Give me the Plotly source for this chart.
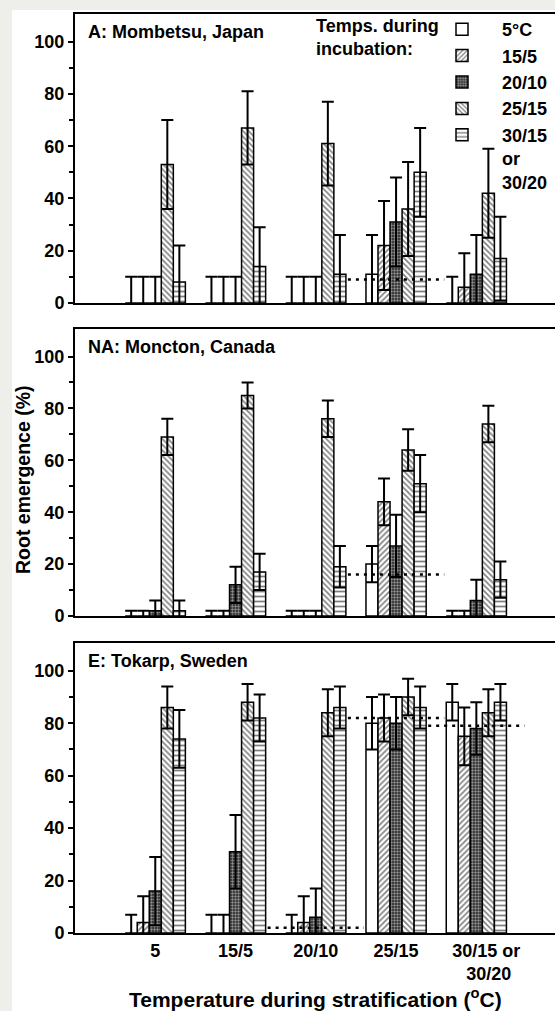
import plotly.graph_objects as go

# ---------------- data ----------------
strat_groups = ["5", "15/5", "20/10", "25/15",
                "\u00a0\u00a0\u00a0\u00a030/15 or<br>\u00a0\u00a0\u00a0\u00a0\u00a030/20"]
incub_names = ["5°C", "15/5", "20/10", "25/15", "30/15<br>or<br>30/20"]
panel_titles = ["A: Mombetsu, Japan", "NA: Moncton, Canada", "E: Tokarp, Sweden"]

# values per incubation series (rows) across stratification groups (columns)
mombetsu_vals = [
    [0, 0, 0, 11, 0],
    [0, 0, 0, 22, 6],
    [0, 0, 0, 31, 11],
    [53, 67, 61, 36, 42],
    [8, 14, 11, 50, 17],
]
mombetsu_err = [
    [10, 10, 10, 15, 10],
    [10, 10, 10, 17, 13],
    [10, 10, 10, 17, 15],
    [17, 14, 16, 18, 17],
    [14, 15, 15, 17, 16],
]
moncton_vals = [
    [0, 0, 0, 20, 0],
    [0, 0, 0, 44, 0],
    [2, 12, 0, 27, 6],
    [69, 85, 76, 64, 74],
    [2, 17, 19, 51, 14],
]
moncton_err = [
    [2, 2, 2, 7, 2],
    [2, 2, 2, 9, 2],
    [4, 7, 2, 12, 8],
    [7, 5, 7, 8, 7],
    [4, 7, 8, 11, 7],
]
tokarp_vals = [
    [0, 0, 0, 80, 88],
    [4, 0, 4, 82, 75],
    [16, 31, 6, 80, 78],
    [86, 88, 84, 90, 84],
    [74, 82, 86, 86, 88],
]
tokarp_err = [
    [7, 7, 7, 10, 7],
    [10, 7, 10, 9, 11],
    [13, 14, 11, 10, 10],
    [8, 7, 9, 7, 9],
    [11, 9, 8, 8, 7],
]
# dotted reference lines: (group index, value) per panel
mombetsu_ref_groups, mombetsu_ref_vals = [3], [9]
moncton_ref_groups, moncton_ref_vals = [3], [16]
tokarp_ref_groups, tokarp_ref_vals = [2, 3, 4], [2, 82, 79]

panels = [
    (mombetsu_vals, mombetsu_err, mombetsu_ref_groups, mombetsu_ref_vals),
    (moncton_vals, moncton_err, moncton_ref_groups, moncton_ref_vals),
    (tokarp_vals, tokarp_err, tokarp_ref_groups, tokarp_ref_vals),
]

# ---------------- style ----------------
FONT = "Liberation Sans, Arial, sans-serif"
W, H = 555, 1011
ML, MR, MT, MB = 75, 0, 14, 78
PH = H - MT - MB
PW = W - ML - MR
panel_px = [(14, 303), (329, 616), (643, 933)]  # top, bottom pixel rows


def py(pix):
    return (H - MB - pix) / PH


def px(pix):
    return (pix - ML) / PW


patterns = [
    dict(shape="", fgcolor="black", bgcolor="white"),
    dict(shape="/", size=4, solidity=0.4, fgcolor="black", bgcolor="white"),
    dict(shape=".", size=3, solidity=0.5, fgcolor="white", bgcolor="#222222"),
    dict(shape="\\", size=4, solidity=0.4, fgcolor="black", bgcolor="white"),
    dict(shape="-", size=5, solidity=0.35, fgcolor="black", bgcolor="white"),
]

xpos = list(range(len(strat_groups)))
fig = go.Figure()

for p, (vals, errs, rgroups, rvals) in enumerate(panels):
    xa = "x" if p == 0 else f"x{p+1}"
    ya = "y" if p == 0 else f"y{p+1}"
    for s in range(len(incub_names)):
        fig.add_trace(go.Bar(
            x=xpos, y=vals[s], name=incub_names[s],
            xaxis=xa, yaxis=ya, offsetgroup=str(s),
            showlegend=(p == 0), legendrank=s,
            marker=dict(color="white", line=dict(color="black", width=1.5),
                        pattern=patterns[s]),
            error_y=dict(type="data", array=errs[s], symmetric=True,
                         color="black", thickness=2, width=6),
        ))
    lx, ly = [], []
    for g, v in zip(rgroups, rvals):
        lx += [g - 0.6, g + 0.6, None]
        ly += [v, v, None]
    fig.add_trace(go.Scatter(x=lx, y=ly, mode="lines", xaxis=xa, yaxis=ya,
                             showlegend=False, hoverinfo="skip",
                             line=dict(color="black", width=2.5, dash="3px,5px")))

layout = dict(
    width=W, height=H,
    margin=dict(l=ML, r=MR, t=MT, b=MB, pad=0),
    paper_bgcolor="#eeeeea", plot_bgcolor="white",
    barmode="group", bargap=0.25, bargroupgap=0,
    font=dict(family=FONT, size=18, color="black"),
    legend=dict(
        x=px(422), y=py(11), xanchor="left", yanchor="top",
        bgcolor="rgba(0,0,0,0)", borderwidth=0,
        font=dict(family=FONT, size=18, weight="bold"),
        itemwidth=70, valign="top",
        tracegroupgap=0, traceorder="normal",
    ),
    shapes=[dict(type="rect", xref="paper", yref="paper", layer="below",
                 x0=px(12), x1=1.02, y0=py(1015), y1=py(10),
                 fillcolor="white", line=dict(width=0))],
    annotations=[],
)

for p in range(3):
    sfx = "" if p == 0 else str(p + 1)
    top, bot = panel_px[p]
    layout["xaxis" + sfx] = dict(
        domain=[0, 1], range=[-1.0, 4.98], anchor="y" + sfx,
        showline=True, linecolor="black", linewidth=2, mirror=True,
        showgrid=False, zeroline=False, ticks="",
        tickvals=xpos, ticktext=strat_groups,
        showticklabels=(p == 2),
        tickfont=dict(family=FONT, size=18, weight="bold"),
    )
    layout["yaxis" + sfx] = dict(
        domain=[py(bot), py(top)], range=[0, 110.6], anchor="x" + sfx,
        showline=True, linecolor="black", linewidth=2, mirror=False,
        showgrid=False, zeroline=False,
        tickvals=[0, 20, 40, 60, 80, 100],
        ticks="outside", ticklen=5, tickwidth=1.5, tickcolor="black",
        minor=dict(tickvals=[10, 30, 50, 70, 90], ticks="outside",
                   ticklen=4, tickwidth=1.5, tickcolor="black"),
        tickfont=dict(family=FONT, size=18, weight="bold"),
    )
    layout["annotations"].append(dict(
        text=panel_titles[p], xref="paper", yref="paper",
        x=px(86), y=py(top + 6), xanchor="left", yanchor="top",
        showarrow=False, font=dict(family=FONT, size=18, weight="bold")))

# legend heading
layout["annotations"].append(dict(
    text="Temps. during<br>incubation:", xref="paper", yref="paper",
    x=px(314), y=py(14), xanchor="left", yanchor="top", align="left",
    showarrow=False, font=dict(family=FONT, size=18, weight="bold")))

layout["annotations"].append(dict(
    text="Root emergence (%)", xref="paper", yref="paper",
    x=px(23), y=py(480), xanchor="center", yanchor="middle", textangle=-90,
    showarrow=False, font=dict(family=FONT, size=19.5, weight="bold")))
layout["annotations"].append(dict(
    text="Temperature during stratification (<sup>o</sup>C)", xref="paper", yref="paper",
    x=px(315), y=py(998), xanchor="center", yanchor="middle",
    showarrow=False, font=dict(family=FONT, size=21, weight="bold")))

fig.update_layout(**layout)
fig.write_html("out.html")
